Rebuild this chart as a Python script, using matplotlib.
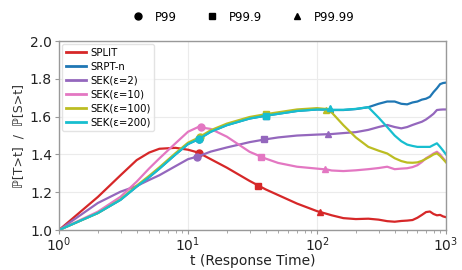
import matplotlib
matplotlib.use("Agg")
import matplotlib.pyplot as plt
from matplotlib.lines import Line2D
import numpy as np

t = [1, 2, 3, 4, 5, 6, 8, 10, 12, 15, 20, 30, 40, 50, 70, 100, 120, 130, 160, 200,
     250, 300, 350, 400, 450, 500, 550, 600, 650, 700, 750, 800, 850, 900, 950, 1000]

split = [1.0, 1.175, 1.29, 1.37, 1.41, 1.43, 1.435, 1.425, 1.41, 1.375, 1.33, 1.26, 1.215, 1.185, 1.14, 1.10, 1.085, 1.078, 1.063, 1.058,
         1.06, 1.055, 1.047, 1.044, 1.048, 1.05, 1.053, 1.065, 1.08, 1.095, 1.098, 1.085, 1.078, 1.08, 1.072, 1.068]
srpt = [1.0, 1.09, 1.16, 1.23, 1.28, 1.325, 1.40, 1.455, 1.48, 1.52, 1.555, 1.59, 1.605, 1.615, 1.63, 1.638, 1.637, 1.635, 1.635, 1.64,
        1.65, 1.668, 1.68, 1.68, 1.668, 1.665, 1.675, 1.68, 1.69, 1.695, 1.705, 1.73, 1.75, 1.772, 1.778, 1.78]
sek2 = [1.0, 1.143, 1.203, 1.233, 1.265, 1.29, 1.338, 1.375, 1.39, 1.415, 1.437, 1.465, 1.48, 1.49, 1.50, 1.505, 1.507, 1.508, 1.513, 1.518,
        1.53, 1.545, 1.556, 1.545, 1.538, 1.545, 1.556, 1.565, 1.573, 1.585, 1.60, 1.615, 1.635, 1.637, 1.638, 1.638]
sek10 = [1.0, 1.097, 1.176, 1.256, 1.326, 1.379, 1.459, 1.52, 1.545, 1.535, 1.494, 1.414, 1.378, 1.355, 1.335, 1.325, 1.32, 1.315, 1.312, 1.316,
         1.322, 1.328, 1.335, 1.322, 1.325, 1.327, 1.333, 1.343, 1.36, 1.38, 1.392, 1.405, 1.414, 1.40, 1.38, 1.362]
sek100 = [1.0, 1.09, 1.162, 1.235, 1.287, 1.332, 1.407, 1.462, 1.488, 1.528, 1.563, 1.598, 1.613, 1.623, 1.638, 1.645, 1.64, 1.622, 1.555, 1.49,
          1.44, 1.42, 1.405, 1.38, 1.365, 1.357, 1.356, 1.358, 1.366, 1.377, 1.388, 1.40, 1.406, 1.392, 1.375, 1.358]
sek200 = [1.0, 1.09, 1.16, 1.23, 1.28, 1.325, 1.40, 1.455, 1.48, 1.52, 1.555, 1.59, 1.605, 1.615, 1.63, 1.638, 1.638, 1.636, 1.636, 1.641,
          1.65, 1.595, 1.545, 1.50, 1.47, 1.452, 1.445, 1.44, 1.44, 1.44, 1.44, 1.45, 1.459, 1.44, 1.42, 1.40]

labels = ["SPLIT", "SRPT-n", "SEK(ε=2)", "SEK(ε=10)", "SEK(ε=100)", "SEK(ε=200)"]
colors = ["#d62728", "#1f77b4", "#9467bd", "#e377c2", "#bcbd22", "#17becf"]

# percentile marker positions (t, value) per series: P99, P99.9, P99.99
p_t = [[12.2, 35, 105], [12.2, 40, 125], [11.8, 38.8, 122], [12.6, 36.8, 115], [12.3, 40, 118], [12.2, 40, 125]]
p_v = [[1.41, 1.233, 1.093], [1.48, 1.603, 1.64], [1.388, 1.48, 1.508], [1.547, 1.385, 1.321], [1.49, 1.612, 1.635], [1.48, 1.603, 1.645]]
p_names = ["P99", "P99.9", "P99.99"]
p_markers = ["o", "s", "^"]

series = [split, srpt, sek2, sek10, sek100, sek200]

fig = plt.figure(figsize=(4.62, 2.70), dpi=100)
ax = fig.add_axes([0.1277, 0.148, 0.8377, 0.700])

for ys, lab, c, pt, pv in zip(series, labels, colors, p_t, p_v):
    ax.plot(t, ys, color=c, lw=1.6, label=lab)
    for x, y, m in zip(pt, pv, p_markers):
        ax.plot([x], [y], marker=m, color=c, ms=5, ls="none")

ax.set_xscale("log")
ax.set_xlim(1, 1000)
ax.set_ylim(1.0, 2.0)
ax.set_yticks([1.0, 1.2, 1.4, 1.6, 1.8, 2.0])
ax.grid(True, which="major", color="#ebebeb", lw=0.8)
ax.set_axisbelow(True)
for s in ax.spines.values():
    s.set_color("#999999")
    s.set_linewidth(1.0)
ax.tick_params(axis="both", labelsize=10, color="#999999", length=3, colors="#222222")
ax.tick_params(axis="x", which="both", pad=0.5)
ax.tick_params(axis="y", pad=2)
ax.tick_params(axis="x", which="minor", color="#999999", length=2)
ax.set_xlabel("t (Response Time)", fontsize=10, labelpad=0, color="#222222")
ax.set_ylabel("ℙ[T>t]  /  ℙ[S>t]", fontsize=9, color="#333333", labelpad=3)

leg = ax.legend(loc="upper left", fontsize=7.3, frameon=True, handlelength=2.0,
                labelspacing=0.4, borderpad=0.35, handletextpad=0.4, borderaxespad=0.3)
leg.get_frame().set_edgecolor("#dddddd")
for ln in leg.get_lines():
    ln.set_linewidth(2)

handles = [Line2D([], [], color="black", marker=m, ls="none", ms=5) for m in p_markers]
fig.legend(handles, p_names, loc="upper center", bbox_to_anchor=(0.52, 1.0), ncol=3,
           frameon=False, fontsize=8.5, handletextpad=0.4, columnspacing=2.0)

fig.savefig("out.png", dpi=100)
